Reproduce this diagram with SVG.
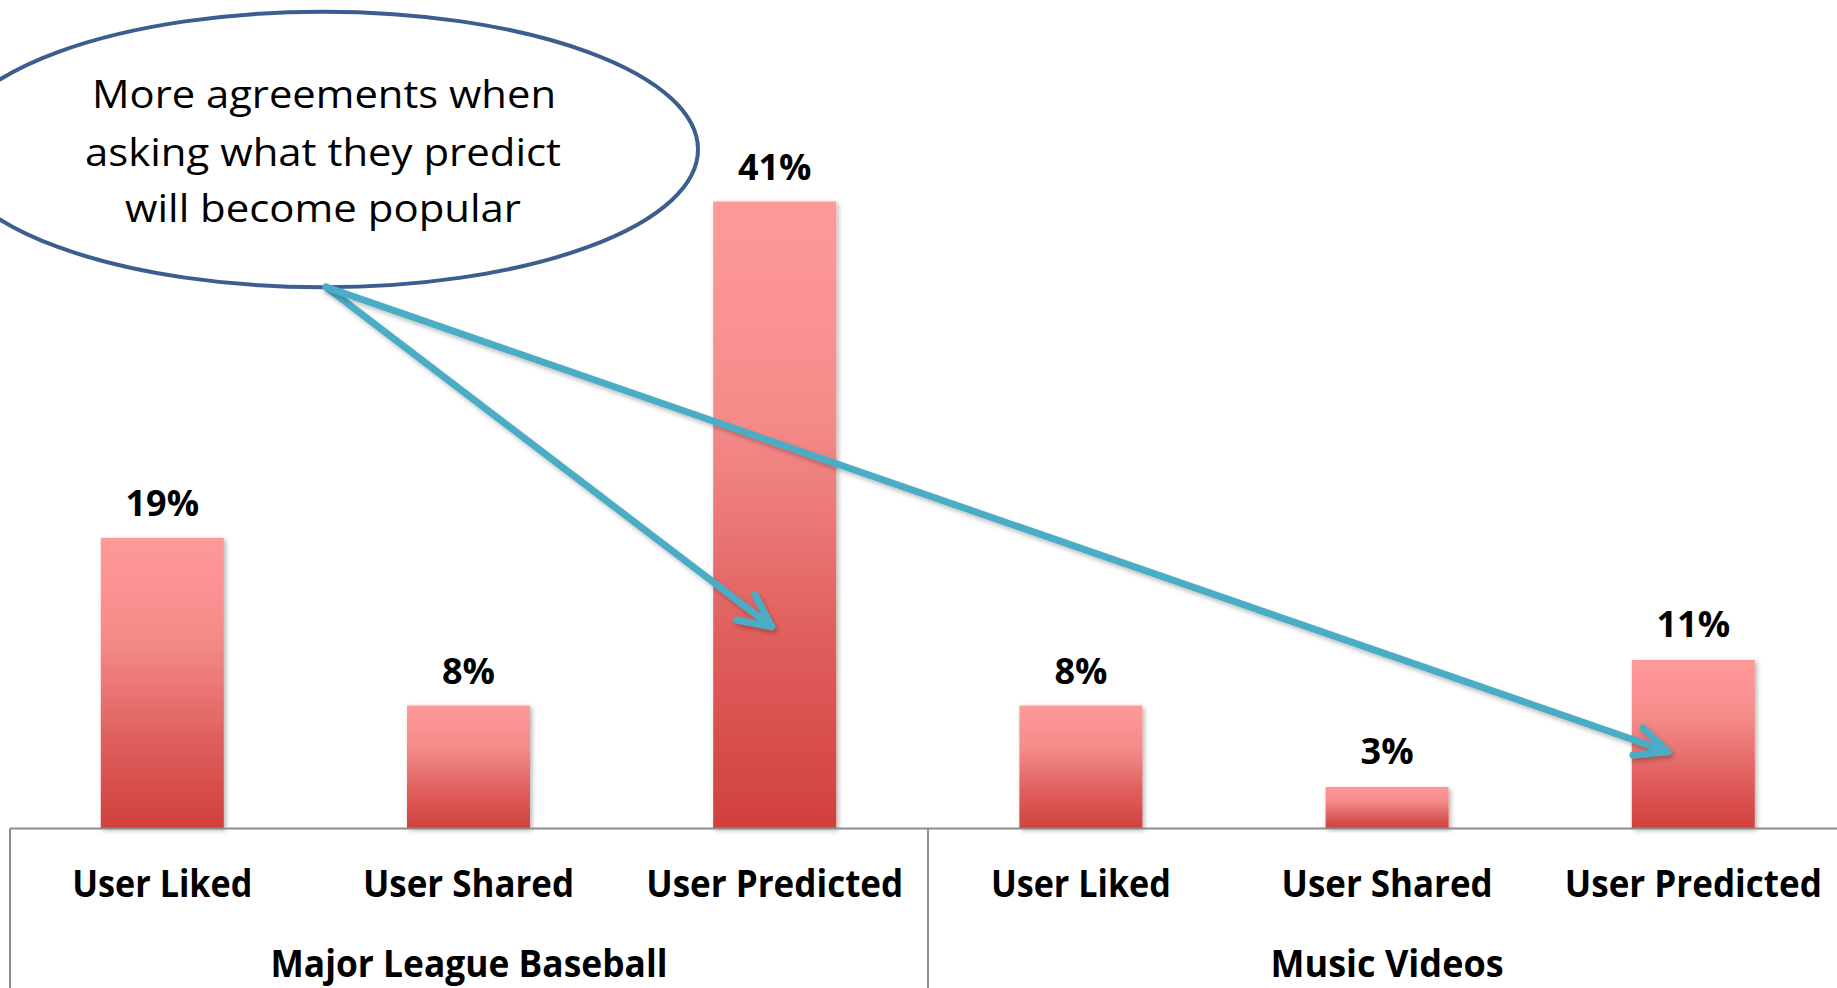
<svg xmlns="http://www.w3.org/2000/svg" width="1837" height="988" viewBox="0 0 1837 988">
<style>
.val{font-family:"Open Sans","Liberation Sans",sans-serif;font-weight:bold;font-size:36px;fill:#000;text-anchor:middle}
.cat{font-family:"Open Sans","Liberation Sans",sans-serif;font-weight:bold;font-size:37px;fill:#000;text-anchor:middle}
.note{font-family:"Open Sans","Liberation Sans",sans-serif;font-size:39px;fill:#000;text-anchor:middle}
.bar{fill:url(#barGrad);filter:url(#shadow)}
.axis{stroke:#8c8c8c;stroke-width:2;fill:none}
.arrow{stroke:#4BACC6;stroke-width:7;fill:none;stroke-linecap:round;stroke-linejoin:round;filter:url(#ashadow)}
</style>
<defs>
<linearGradient id="barGrad" x1="0" y1="0" x2="0" y2="1">
<stop offset="0" stop-color="#FF9A99"/>
<stop offset="0.35" stop-color="#F48B89"/>
<stop offset="0.7" stop-color="#DF5F5D"/>
<stop offset="1" stop-color="#D0403D"/>
</linearGradient>
<filter id="shadow" x="-10%" y="-5%" width="125%" height="115%">
<feDropShadow dx="2" dy="2" stdDeviation="2.5" flood-color="#000" flood-opacity="0.3"/>
</filter>
<filter id="ashadow" x="-5%" y="-5%" width="115%" height="115%">
<feDropShadow dx="2" dy="3" stdDeviation="2" flood-color="#000" flood-opacity="0.25"/>
</filter>
</defs>
<rect x="0" y="0" width="1837" height="988" fill="#fff"/>

<g id="bars">
<g id="bar-mlb-liked"><rect class="bar" x="100.8" y="537.8" width="123" height="290.5"/><text class="val" x="162.3" y="516">19%</text></g>
<g id="bar-mlb-shared"><rect class="bar" x="407" y="705.5" width="123" height="122.8"/><text class="val" x="468.5" y="683.5">8%</text></g>
<g id="bar-mlb-predicted"><rect class="bar" x="713.2" y="201.5" width="123" height="626.8"/><text class="val" x="774.7" y="179.5">41%</text></g>
<g id="bar-mv-liked"><rect class="bar" x="1019.4" y="705.5" width="123" height="122.8"/><text class="val" x="1080.9" y="683.5">8%</text></g>
<g id="bar-mv-shared"><rect class="bar" x="1325.6" y="787" width="123" height="41.3"/><text class="val" x="1387.1" y="764">3%</text></g>
<g id="bar-mv-predicted"><rect class="bar" x="1631.8" y="660" width="123" height="168.3"/><text class="val" x="1693.3" y="637">11%</text></g>
</g>

<g id="axis">
<line class="axis" x1="10" y1="828.5" x2="1837" y2="828.5"/>
<line class="axis" x1="10" y1="828.5" x2="10" y2="988"/>
<line class="axis" x1="928" y1="828.5" x2="928" y2="988"/>
<text class="cat" x="162.3" y="897" textLength="180" lengthAdjust="spacingAndGlyphs">User Liked</text>
<text class="cat" x="468.5" y="897" textLength="211" lengthAdjust="spacingAndGlyphs">User Shared</text>
<text class="cat" x="774.7" y="897" textLength="257" lengthAdjust="spacingAndGlyphs">User Predicted</text>
<text class="cat" x="1080.9" y="897" textLength="180" lengthAdjust="spacingAndGlyphs">User Liked</text>
<text class="cat" x="1387.1" y="897" textLength="211" lengthAdjust="spacingAndGlyphs">User Shared</text>
<text class="cat" x="1693.3" y="897" textLength="257" lengthAdjust="spacingAndGlyphs">User Predicted</text>
<text class="cat" x="469" y="977" textLength="397" lengthAdjust="spacingAndGlyphs">Major League Baseball</text>
<text class="cat" x="1387.1" y="977" textLength="233" lengthAdjust="spacingAndGlyphs">Music Videos</text>
</g>

<g id="callout">
<ellipse cx="323" cy="149.5" rx="375" ry="137.8" fill="#fff" stroke="#3A5F8E" stroke-width="4"/>
<text class="note" x="324" y="108" textLength="464" lengthAdjust="spacingAndGlyphs">More agreements when</text>
<text class="note" x="323" y="165.5" textLength="476" lengthAdjust="spacingAndGlyphs">asking what they predict</text>
<text class="note" x="323" y="222" textLength="396" lengthAdjust="spacingAndGlyphs">will become popular</text>
</g>

<g id="connectors">
<path class="arrow" d="M326,287 L771.7,626.7 M755,595 L771.7,626.7 L736.7,620"/>
<path class="arrow" d="M326,287 L1668,751.7 M1643,728 L1668,751.7 L1633,755"/>
</g>
</svg>
